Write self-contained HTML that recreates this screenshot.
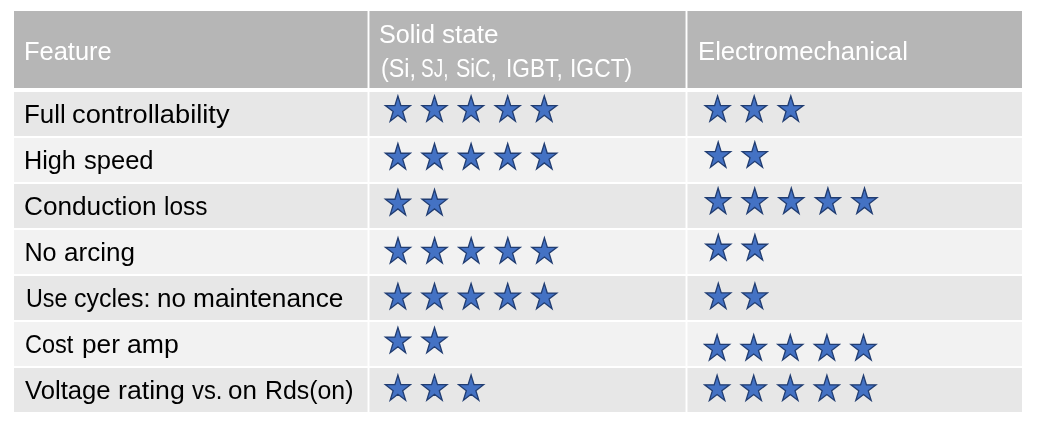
<!DOCTYPE html>
<html><head><meta charset="utf-8"><style>
html,body{margin:0;padding:0;background:#fff;}
body{width:1039px;height:428px;position:relative;overflow:hidden;font-family:"Liberation Sans",sans-serif;}
.bg{position:absolute;}
.t{position:absolute;white-space:nowrap;font-size:25.2px;line-height:25.2px;transform-origin:0 0;filter:grayscale(1);}
.w{color:#fff;}
.k{color:#000;}
</style></head><body>
<div class="bg" style="left:14px;top:11px;width:1008px;height:77px;background:#b6b6b6"></div>
<div class="bg" style="left:14px;top:92px;width:1008px;height:44px;background:#e7e7e7"></div>
<div class="bg" style="left:14px;top:138px;width:1008px;height:44px;background:#f2f2f2"></div>
<div class="bg" style="left:14px;top:184px;width:1008px;height:44px;background:#e7e7e7"></div>
<div class="bg" style="left:14px;top:230px;width:1008px;height:44px;background:#f2f2f2"></div>
<div class="bg" style="left:14px;top:276px;width:1008px;height:44px;background:#e7e7e7"></div>
<div class="bg" style="left:14px;top:322px;width:1008px;height:44px;background:#f2f2f2"></div>
<div class="bg" style="left:14px;top:368px;width:1008px;height:44px;background:#e7e7e7"></div>
<div class="bg" style="left:367px;top:11px;width:3px;height:401px;background:rgba(255,255,255,0.45)"></div>
<div class="bg" style="left:368px;top:11px;width:1px;height:401px;background:#fff"></div>
<div class="bg" style="left:685px;top:11px;width:3px;height:401px;background:rgba(255,255,255,0.45)"></div>
<div class="bg" style="left:686px;top:11px;width:1px;height:401px;background:#fff"></div>
<div class="t w" style="left:24.48px;top:38.67px;transform:scaleX(1.0107);">Feature</div>
<div class="t w" style="left:379.40px;top:21.67px;transform:scaleX(0.9981);">Solid</div>
<div class="t w" style="left:441.96px;top:21.67px;transform:scaleX(1.0358);">state</div>
<div class="t w" style="left:380.77px;top:56.07px;transform:scaleX(0.9257);">(Si,</div>
<div class="t w" style="left:421.45px;top:56.07px;transform:scaleX(0.7529);">SJ,</div>
<div class="t w" style="left:455.65px;top:56.07px;transform:scaleX(0.8533);">SiC,</div>
<div class="t w" style="left:505.70px;top:56.07px;transform:scaleX(0.9);">IGBT,</div>
<div class="t w" style="left:569.58px;top:56.07px;transform:scaleX(0.9077);">IGCT)</div>
<div class="t w" style="left:697.96px;top:38.67px;transform:scaleX(1.0197);">Electromechanical</div>
<div class="t k" style="left:24.45px;top:101.57px;transform:scaleX(1.027);">Full</div>
<div class="t k" style="left:71.82px;top:101.57px;transform:scaleX(1.0821);">controllability</div>
<div class="t k" style="left:24.40px;top:147.57px;transform:scaleX(1.002);">High</div>
<div class="t k" style="left:83.59px;top:147.57px;transform:scaleX(1.0136);">speed</div>
<div class="t k" style="left:24.46px;top:193.57px;transform:scaleX(1.04);">Conduction</div>
<div class="t k" style="left:164.03px;top:193.57px;transform:scaleX(0.9698);">loss</div>
<div class="t k" style="left:24.40px;top:239.57px;transform:scaleX(1.0);">No</div>
<div class="t k" style="left:63.87px;top:239.57px;transform:scaleX(1.0333);">arcing</div>
<div class="t k" style="left:25.67px;top:285.57px;transform:scaleX(0.9256);">Use</div>
<div class="t k" style="left:74.11px;top:285.57px;transform:scaleX(0.9919);">cycles:</div>
<div class="t k" style="left:156.67px;top:285.57px;transform:scaleX(1.0308);">no</div>
<div class="t k" style="left:193.26px;top:285.57px;transform:scaleX(1.043);">maintenance</div>
<div class="t k" style="left:25.17px;top:331.57px;transform:scaleX(0.9333);">Cost</div>
<div class="t k" style="left:82.16px;top:331.57px;transform:scaleX(1.04);">per</div>
<div class="t k" style="left:126.74px;top:331.57px;transform:scaleX(1.0553);">amp</div>
<div class="t k" style="left:25.20px;top:377.57px;transform:scaleX(1.0181);">Voltage</div>
<div class="t k" style="left:118.04px;top:377.57px;transform:scaleX(1.059);">rating</div>
<div class="t k" style="left:191.80px;top:377.57px;transform:scaleX(0.9467);">vs.</div>
<div class="t k" style="left:228.37px;top:377.57px;transform:scaleX(1.0308);">on</div>
<div class="t k" style="left:264.63px;top:377.57px;transform:scaleX(0.9872);">Rds(on)</div>
<svg width="1039" height="428" style="position:absolute;left:0;top:0"><path fill="#4472c4" stroke="#213d72" stroke-width="1.3" stroke-linejoin="miter" d="M385.40,105.55 L394.95,105.55 L397.90,95.89 L400.85,105.55 L410.40,105.55 L402.67,111.52 L405.63,121.19 L397.90,115.21 L390.17,121.19 L393.13,111.52Z M422.00,105.55 L431.55,105.55 L434.50,95.89 L437.45,105.55 L447.00,105.55 L439.27,111.52 L442.23,121.19 L434.50,115.21 L426.77,121.19 L429.73,111.52Z M458.60,105.55 L468.15,105.55 L471.10,95.89 L474.05,105.55 L483.60,105.55 L475.87,111.52 L478.83,121.19 L471.10,115.21 L463.37,121.19 L466.33,111.52Z M495.20,105.55 L504.75,105.55 L507.70,95.89 L510.65,105.55 L520.20,105.55 L512.47,111.52 L515.43,121.19 L507.70,115.21 L499.97,121.19 L502.93,111.52Z M531.80,105.55 L541.35,105.55 L544.30,95.89 L547.25,105.55 L556.80,105.55 L549.07,111.52 L552.03,121.19 L544.30,115.21 L536.57,121.19 L539.53,111.52Z M705.10,105.55 L714.65,105.55 L717.60,95.89 L720.55,105.55 L730.10,105.55 L722.37,111.52 L725.33,121.19 L717.60,115.21 L709.87,121.19 L712.83,111.52Z M741.70,105.55 L751.25,105.55 L754.20,95.89 L757.15,105.55 L766.70,105.55 L758.97,111.52 L761.93,121.19 L754.20,115.21 L746.47,121.19 L749.43,111.52Z M778.30,105.55 L787.85,105.55 L790.80,95.89 L793.75,105.55 L803.30,105.55 L795.57,111.52 L798.53,121.19 L790.80,115.21 L783.07,121.19 L786.03,111.52Z M385.40,153.25 L394.95,153.25 L397.90,143.59 L400.85,153.25 L410.40,153.25 L402.67,159.22 L405.63,168.89 L397.90,162.91 L390.17,168.89 L393.13,159.22Z M422.00,153.25 L431.55,153.25 L434.50,143.59 L437.45,153.25 L447.00,153.25 L439.27,159.22 L442.23,168.89 L434.50,162.91 L426.77,168.89 L429.73,159.22Z M458.60,153.25 L468.15,153.25 L471.10,143.59 L474.05,153.25 L483.60,153.25 L475.87,159.22 L478.83,168.89 L471.10,162.91 L463.37,168.89 L466.33,159.22Z M495.20,153.25 L504.75,153.25 L507.70,143.59 L510.65,153.25 L520.20,153.25 L512.47,159.22 L515.43,168.89 L507.70,162.91 L499.97,168.89 L502.93,159.22Z M531.80,153.25 L541.35,153.25 L544.30,143.59 L547.25,153.25 L556.80,153.25 L549.07,159.22 L552.03,168.89 L544.30,162.91 L536.57,168.89 L539.53,159.22Z M705.70,151.65 L715.25,151.65 L718.20,141.99 L721.15,151.65 L730.70,151.65 L722.97,157.62 L725.93,167.29 L718.20,161.31 L710.47,167.29 L713.43,157.62Z M742.30,151.65 L751.85,151.65 L754.80,141.99 L757.75,151.65 L767.30,151.65 L759.57,157.62 L762.53,167.29 L754.80,161.31 L747.07,167.29 L750.03,157.62Z M385.40,199.25 L394.95,199.25 L397.90,189.59 L400.85,199.25 L410.40,199.25 L402.67,205.22 L405.63,214.89 L397.90,208.91 L390.17,214.89 L393.13,205.22Z M422.00,199.25 L431.55,199.25 L434.50,189.59 L437.45,199.25 L447.00,199.25 L439.27,205.22 L442.23,214.89 L434.50,208.91 L426.77,214.89 L429.73,205.22Z M705.60,197.75 L715.15,197.75 L718.10,188.09 L721.05,197.75 L730.60,197.75 L722.87,203.72 L725.83,213.39 L718.10,207.41 L710.37,213.39 L713.33,203.72Z M742.20,197.75 L751.75,197.75 L754.70,188.09 L757.65,197.75 L767.20,197.75 L759.47,203.72 L762.43,213.39 L754.70,207.41 L746.97,213.39 L749.93,203.72Z M778.80,197.75 L788.35,197.75 L791.30,188.09 L794.25,197.75 L803.80,197.75 L796.07,203.72 L799.03,213.39 L791.30,207.41 L783.57,213.39 L786.53,203.72Z M815.40,197.75 L824.95,197.75 L827.90,188.09 L830.85,197.75 L840.40,197.75 L832.67,203.72 L835.63,213.39 L827.90,207.41 L820.17,213.39 L823.13,203.72Z M852.00,197.75 L861.55,197.75 L864.50,188.09 L867.45,197.75 L877.00,197.75 L869.27,203.72 L872.23,213.39 L864.50,207.41 L856.77,213.39 L859.73,203.72Z M385.50,247.35 L395.05,247.35 L398.00,237.69 L400.95,247.35 L410.50,247.35 L402.77,253.32 L405.73,262.99 L398.00,257.01 L390.27,262.99 L393.23,253.32Z M422.10,247.35 L431.65,247.35 L434.60,237.69 L437.55,247.35 L447.10,247.35 L439.37,253.32 L442.33,262.99 L434.60,257.01 L426.87,262.99 L429.83,253.32Z M458.70,247.35 L468.25,247.35 L471.20,237.69 L474.15,247.35 L483.70,247.35 L475.97,253.32 L478.93,262.99 L471.20,257.01 L463.47,262.99 L466.43,253.32Z M495.30,247.35 L504.85,247.35 L507.80,237.69 L510.75,247.35 L520.30,247.35 L512.57,253.32 L515.53,262.99 L507.80,257.01 L500.07,262.99 L503.03,253.32Z M531.90,247.35 L541.45,247.35 L544.40,237.69 L547.35,247.35 L556.90,247.35 L549.17,253.32 L552.13,262.99 L544.40,257.01 L536.67,262.99 L539.63,253.32Z M705.80,244.25 L715.35,244.25 L718.30,234.59 L721.25,244.25 L730.80,244.25 L723.07,250.22 L726.03,259.89 L718.30,253.91 L710.57,259.89 L713.53,250.22Z M742.40,244.25 L751.95,244.25 L754.90,234.59 L757.85,244.25 L767.40,244.25 L759.67,250.22 L762.63,259.89 L754.90,253.91 L747.17,259.89 L750.13,250.22Z M385.40,293.05 L394.95,293.05 L397.90,283.39 L400.85,293.05 L410.40,293.05 L402.67,299.02 L405.63,308.69 L397.90,302.71 L390.17,308.69 L393.13,299.02Z M422.00,293.05 L431.55,293.05 L434.50,283.39 L437.45,293.05 L447.00,293.05 L439.27,299.02 L442.23,308.69 L434.50,302.71 L426.77,308.69 L429.73,299.02Z M458.60,293.05 L468.15,293.05 L471.10,283.39 L474.05,293.05 L483.60,293.05 L475.87,299.02 L478.83,308.69 L471.10,302.71 L463.37,308.69 L466.33,299.02Z M495.20,293.05 L504.75,293.05 L507.70,283.39 L510.65,293.05 L520.20,293.05 L512.47,299.02 L515.43,308.69 L507.70,302.71 L499.97,308.69 L502.93,299.02Z M531.80,293.05 L541.35,293.05 L544.30,283.39 L547.25,293.05 L556.80,293.05 L549.07,299.02 L552.03,308.69 L544.30,302.71 L536.57,308.69 L539.53,299.02Z M705.80,292.95 L715.35,292.95 L718.30,283.29 L721.25,292.95 L730.80,292.95 L723.07,298.92 L726.03,308.59 L718.30,302.61 L710.57,308.59 L713.53,298.92Z M742.40,292.95 L751.95,292.95 L754.90,283.29 L757.85,292.95 L767.40,292.95 L759.67,298.92 L762.63,308.59 L754.90,302.61 L747.17,308.59 L750.13,298.92Z M385.40,337.05 L394.95,337.05 L397.90,327.39 L400.85,337.05 L410.40,337.05 L402.67,343.02 L405.63,352.69 L397.90,346.71 L390.17,352.69 L393.13,343.02Z M422.00,337.05 L431.55,337.05 L434.50,327.39 L437.45,337.05 L447.00,337.05 L439.27,343.02 L442.23,352.69 L434.50,346.71 L426.77,352.69 L429.73,343.02Z M704.60,344.45 L714.15,344.45 L717.10,334.79 L720.05,344.45 L729.60,344.45 L721.87,350.42 L724.83,360.09 L717.10,354.11 L709.37,360.09 L712.33,350.42Z M741.20,344.45 L750.75,344.45 L753.70,334.79 L756.65,344.45 L766.20,344.45 L758.47,350.42 L761.43,360.09 L753.70,354.11 L745.97,360.09 L748.93,350.42Z M777.80,344.45 L787.35,344.45 L790.30,334.79 L793.25,344.45 L802.80,344.45 L795.07,350.42 L798.03,360.09 L790.30,354.11 L782.57,360.09 L785.53,350.42Z M814.40,344.45 L823.95,344.45 L826.90,334.79 L829.85,344.45 L839.40,344.45 L831.67,350.42 L834.63,360.09 L826.90,354.11 L819.17,360.09 L822.13,350.42Z M851.00,344.45 L860.55,344.45 L863.50,334.79 L866.45,344.45 L876.00,344.45 L868.27,350.42 L871.23,360.09 L863.50,354.11 L855.77,360.09 L858.73,350.42Z M385.40,384.65 L394.95,384.65 L397.90,374.99 L400.85,384.65 L410.40,384.65 L402.67,390.62 L405.63,400.29 L397.90,394.31 L390.17,400.29 L393.13,390.62Z M422.00,384.65 L431.55,384.65 L434.50,374.99 L437.45,384.65 L447.00,384.65 L439.27,390.62 L442.23,400.29 L434.50,394.31 L426.77,400.29 L429.73,390.62Z M458.60,384.65 L468.15,384.65 L471.10,374.99 L474.05,384.65 L483.60,384.65 L475.87,390.62 L478.83,400.29 L471.10,394.31 L463.37,400.29 L466.33,390.62Z M704.60,384.85 L714.15,384.85 L717.10,375.19 L720.05,384.85 L729.60,384.85 L721.87,390.82 L724.83,400.49 L717.10,394.51 L709.37,400.49 L712.33,390.82Z M741.20,384.85 L750.75,384.85 L753.70,375.19 L756.65,384.85 L766.20,384.85 L758.47,390.82 L761.43,400.49 L753.70,394.51 L745.97,400.49 L748.93,390.82Z M777.80,384.85 L787.35,384.85 L790.30,375.19 L793.25,384.85 L802.80,384.85 L795.07,390.82 L798.03,400.49 L790.30,394.51 L782.57,400.49 L785.53,390.82Z M814.40,384.85 L823.95,384.85 L826.90,375.19 L829.85,384.85 L839.40,384.85 L831.67,390.82 L834.63,400.49 L826.90,394.51 L819.17,400.49 L822.13,390.82Z M851.00,384.85 L860.55,384.85 L863.50,375.19 L866.45,384.85 L876.00,384.85 L868.27,390.82 L871.23,400.49 L863.50,394.51 L855.77,400.49 L858.73,390.82Z"/></svg>
</body></html>
